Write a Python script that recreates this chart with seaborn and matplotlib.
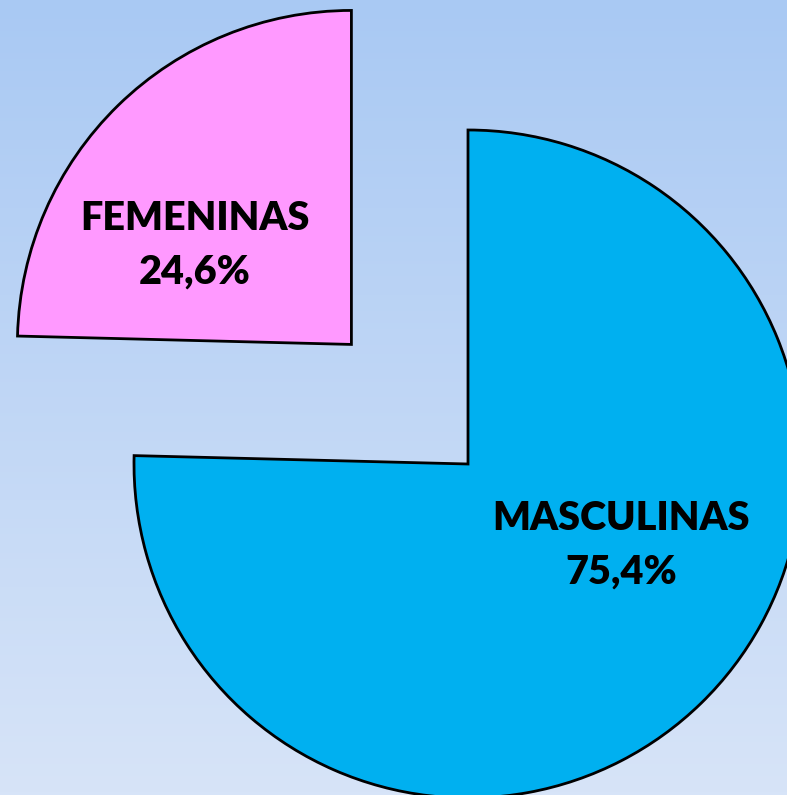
import numpy as np
import matplotlib
matplotlib.use("Agg")
import matplotlib.pyplot as plt
import seaborn as sns

categories = ["MASCULINAS", "FEMENINAS"]
values = [75.4, 24.6]
value_labels = ["75,4%", "24,6%"]
colors = ["#00b0f0", "#ff99ff"]

sns.set_theme(style="white")
plt.rcParams["font.family"] = ["Lato", "DejaVu Sans"]

W, H = 787, 795
fig = plt.figure(figsize=(W / 100, H / 100), dpi=100)
ax = fig.add_axes([0, 0, 1, 1])
ax.set_xlim(0, W)
ax.set_ylim(0, H)
ax.axis("off")

# background gradient (top darker blue -> bottom lighter)
top = np.array([0xa9, 0xc9, 0xf3]) / 255
bot = np.array([0xd7, 0xe4, 0xf8]) / 255
t = np.linspace(0, 1, 256)[:, None]
grad = top[None, :] * (1 - t) + bot[None, :] * t
img = np.repeat(grad[:, None, :], 2, axis=1)
ax.imshow(img, extent=[0, W, 0, H], origin="upper", aspect="auto", zorder=0)

wedges, _ = ax.pie(values, colors=colors, startangle=90, counterclock=False,
                   explode=[0, 167], radius=334, center=(468, 331),
                   wedgeprops=dict(edgecolor="black", linewidth=2.0),
                   frame=True)
for w in wedges:
    w.set_zorder(2)
ax.set_xlim(0, W)
ax.set_ylim(0, H)
ax.set_aspect("auto")
ax.axis("off")

pos = {"FEMENINAS": (195, H - 230, H - 284), "MASCULINAS": (621, H - 530, H - 584)}
for cat, lab in zip(categories, value_labels):
    x, y1, y2 = pos[cat]
    ax.text(x, y1, cat, ha="center", va="baseline", fontsize=28.5,
            fontweight="heavy", color="black", zorder=3)
    ax.text(x, y2, lab, ha="center", va="baseline", fontsize=28.5,
            fontweight="heavy", color="black", zorder=3)

fig.savefig("out.png", dpi=100)
